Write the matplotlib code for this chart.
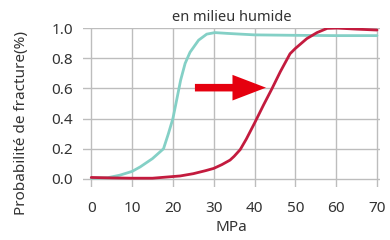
import numpy as np
import matplotlib.pyplot as plt
from matplotlib.patches import FancyArrow

plt.rcParams['font.family'] = ['Noto Sans', 'DejaVu Sans']

# courbe "avant" (bleu-vert) : MPa -> probabilité
teal_x = [0, 4, 7, 10, 12, 15, 17.7, 18.9, 20, 20.9, 21.9, 23, 24.2, 26.3, 28.3, 30.3, 33.2, 36.5, 40, 50, 60, 70]
teal_y = [0.005, 0.008, 0.025, 0.05, 0.08, 0.135, 0.2, 0.3, 0.4, 0.52, 0.655, 0.766, 0.84, 0.92, 0.96, 0.97, 0.965, 0.96, 0.955, 0.952, 0.95, 0.95]

# courbe "après" (rouge) : décalée vers la droite
red_x = [0, 5, 10, 15, 21.8, 25, 28, 30, 32, 34, 35, 36.5, 38, 40, 42.2, 44.3, 46.3, 48.7, 50, 52.8, 55.3, 57.8, 60.2, 65, 70]
red_y = [0.01, 0.007, 0.005, 0.005, 0.02, 0.035, 0.055, 0.07, 0.095, 0.125, 0.15, 0.195, 0.265, 0.37, 0.49, 0.6, 0.71, 0.83, 0.865, 0.93, 0.97, 0.998, 1.0, 0.993, 0.987]

x_ticks = [0, 10, 20, 30, 40, 50, 60, 70]
y_ticks = [0.0, 0.2, 0.4, 0.6, 0.8, 1.0]

TEAL = "#84d0c6"
RED = "#c31b3e"
ARROW = "#e5000f"
TXT = "#333333"

fig = plt.figure(figsize=(3.9, 2.4), dpi=100)
ax = fig.add_axes([0.213, 0.221, 0.761, 0.662])

ax.plot(teal_x, teal_y, color=TEAL, lw=2.0, zorder=3, solid_capstyle="round")
ax.plot(red_x, red_y, color=RED, lw=2.0, zorder=3, solid_capstyle="round")

ax.add_patch(FancyArrow(25.4, 0.605, 17.4, 0.0, width=0.05, head_width=0.17,
                        head_length=8.2, length_includes_head=True,
                        color=ARROW, lw=0, zorder=4))

ax.set_xlim(-2.0, 70.7)
ax.set_ylim(-0.053, 1.0)
ax.set_xticks(x_ticks)
ax.set_yticks(y_ticks)
ax.set_yticklabels([f"{v:.1f}" for v in y_ticks])
ax.grid(True, color="#bdbdbd", lw=1.0, zorder=0)
ax.set_axisbelow(True)
for s in ax.spines.values():
    s.set_visible(False)
ax.tick_params(length=0, labelsize=11, colors=TXT)
ax.tick_params(axis="x", pad=10)
ax.tick_params(axis="y", pad=7)

ax.set_xlabel("MPa", fontsize=11, color=TXT, labelpad=3)
ax.set_ylabel("Probabilité de fracture(%)", fontsize=11, color=TXT)
ax.yaxis.set_label_coords(-0.183, 0.4)
ax.set_title("en milieu humide", fontsize=10.5, color=TXT, pad=5)

fig.savefig("out.png", dpi=100)
